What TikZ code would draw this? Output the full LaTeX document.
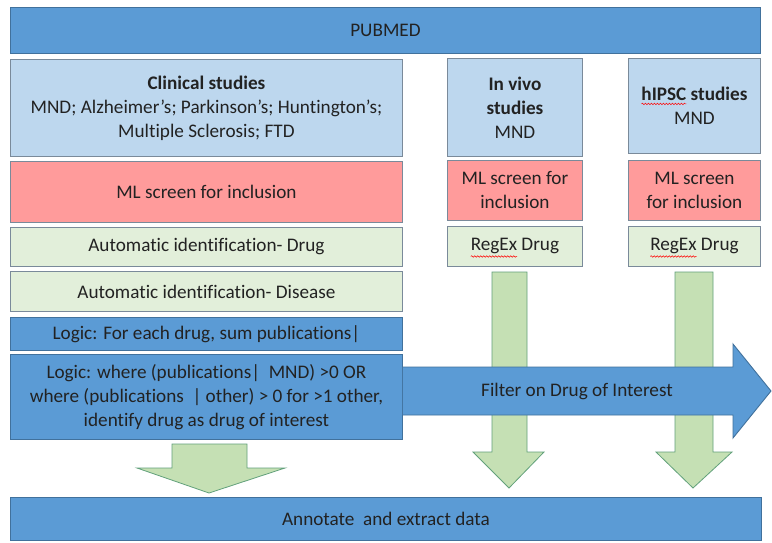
\documentclass[tikz,border=0pt]{standalone}
\usepackage{fontspec}
\setmainfont[Ligatures=CommonOff]{Carlito}
\usetikzlibrary{decorations.pathmorphing}
\definecolor{pubblue}{HTML}{5B9BD5}
\definecolor{pubborder}{HTML}{41719C}
\definecolor{lightblue}{HTML}{BDD7EE}
\definecolor{pinkbox}{HTML}{FF9B9B}
\definecolor{greenbox}{HTML}{E2EFDA}
\definecolor{greenarrow}{HTML}{C5E0B4}
\definecolor{greyborder}{HTML}{7A8A9A}
\definecolor{txt}{HTML}{222222}
\newlength\rxwidth
\newlength\rgwidth
\newlength\hxwidth
\newlength\hswidth
\begin{document}
\settowidth{\rxwidth}{\fontsize{19.2}{24}\selectfont RegEx}%
\settowidth{\rgwidth}{\fontsize{19.2}{24}\selectfont RegEx Drug}%
\settowidth{\hxwidth}{\fontsize{19.2}{24}\selectfont\bfseries hIPSC}%
\settowidth{\hswidth}{\fontsize{19.2}{24}\selectfont\bfseries hIPSC studies}%
\begin{tikzpicture}[x=1pt,y=-1pt,
  fnt/.style={font=\fontsize{19.2}{24}\selectfont, text=txt},
  base/.style={anchor=north west, inner sep=0pt, align=center, fnt, line width=0.9pt},
  bluebox/.style={base, fill=pubblue, draw=pubborder},
  lbbox/.style={base, fill=lightblue, draw=greyborder},
  pkbox/.style={base, fill=pinkbox, draw=greyborder},
  grbox/.style={base, fill=greenbox, draw=greyborder},
  plain/.style={inner sep=0pt, fnt},
  garrow/.style={fill=greenarrow, draw=greyborder!80!green, line width=0.8pt},
  barrow/.style={fill=pubblue, draw=pubborder, line width=0.9pt},
  squig/.style={draw=red, line width=0.5pt, decorate,
    decoration={snake, amplitude=0.8pt, segment length=3pt}}]
\useasboundingbox (0,0) rectangle (772,542);
\fill[white] (0,0) rectangle (772,542);
% top
\node[bluebox, minimum width=750, minimum height=46] (pub) at (10,7) {PUBMED};
% clinical column
\node[lbbox, minimum width=392, minimum height=97] (clin) at (10,59)
  {\textbf{Clinical studies}\\MND; Alzheimer’s; Parkinson’s; Huntington’s;\\Multiple Sclerosis; FTD};
\node[pkbox, minimum width=392, minimum height=61] (mlc) at (10,161) {ML screen for inclusion};
\node[grbox, minimum width=392, minimum height=39] (adrug) at (10,227) {Automatic identification- Drug};
\node[grbox, minimum width=392, minimum height=40] (adis) at (10,271) {Automatic identification- Disease};
\node[bluebox, minimum width=392, minimum height=33] (log1) at (10,317) {Logic: For each drug, sum publications|};
\node[bluebox, minimum width=392, minimum height=85] (log2) at (10,354)
  {Logic: where (publications|\ \ MND) >0 OR\\where (publications \ | other) > 0 for >1 other,\\identify drug as drug of interest};
% in vivo column
\node[lbbox, minimum width=135, minimum height=98] (viv) at (447,58)
  {\textbf{In vivo}\\\textbf{studies}\\MND};
\node[pkbox, minimum width=135, minimum height=60] (mlv) at (447,160) {ML screen for\\inclusion};
\node[grbox, minimum width=135, minimum height=40] (rgv) at (447,226) {RegEx Drug};
% hIPSC column
\node[lbbox, minimum width=132, minimum height=95] (hip) at (628,58) {\textbf{hIPSC studies}\\MND};
\node[pkbox, minimum width=132, minimum height=60] (mlh) at (628,160) {ML screen\\for inclusion};
\node[grbox, minimum width=132, minimum height=40] (rgh) at (628,226) {RegEx Drug};
% green down arrows
\draw[garrow] (492,272) -- (527,272) -- (527,452) -- (544,452) -- (509,488) -- (473,452) -- (492,452) -- cycle;
\draw[garrow] (675,272) -- (713,272) -- (713,452) -- (732,452) -- (693,488) -- (656,452) -- (675,452) -- cycle;
\draw[garrow] (172,444) -- (247,444) -- (247,468) -- (285,468) -- (209,493) -- (137,468) -- (172,468) -- cycle;
% filter arrow
\draw[barrow] (log2.east |- 0,367) -- (733,367) -- (733,344) -- (771,391) -- (733,438) -- (733,415) -- (log2.east |- 0,415);
\node[plain] (filt) at (577,391) {Filter on Drug of Interest};
% bottom
\node[bluebox, minimum width=751, minimum height=43] (ann) at (10,497) {Annotate\ \ and extract data};
% spell-check squiggles
\draw[squig] ([xshift=-0.5\rgwidth]rgv.center) ++(0,10) -- ++(\rxwidth,0);
\draw[squig] ([xshift=-0.5\rgwidth]rgh.center) ++(0,10) -- ++(\rxwidth,0);
\draw[squig] ([xshift=-0.5\hswidth]hip.center) ++(0,-2) -- ++(\hxwidth,0);
\end{tikzpicture}
\end{document}
